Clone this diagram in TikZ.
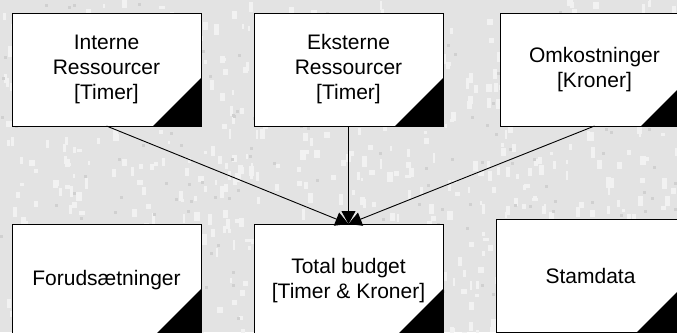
\documentclass[tikz,border=0pt]{standalone}
\usepackage{fontspec}
\setmainfont{Liberation Sans}
\usetikzlibrary{arrows.meta}
\definecolor{bgc}{HTML}{E3E3E3}
\definecolor{spk}{HTML}{F2F2F2}
\definecolor{drk}{HTML}{D0D0D0}
\tikzset{
  fbox/.style={draw=black, line width=1pt, fill=white, minimum width=189pt, minimum height=113pt,
    inner sep=0pt, outer sep=0pt, align=center, font=\fontsize{21}{25}\selectfont},
  conn/.style={draw=black, line width=0.9pt, -{Triangle[length=13pt,width=14pt]}},
}
\begin{document}
\begin{tikzpicture}[x=1pt,y=1pt]
\useasboundingbox (0,0) rectangle (677,-332);
\clip (0,0) rectangle (677,-332);
\fill[bgc] (0,0) rectangle (677,-332);
\pgfmathsetseed{4711}
\foreach \i in {1,...,700}{
  \pgfmathsetmacro\rx{rnd*677}
  \pgfmathsetmacro\ry{-rnd*332}
  \pgfmathsetmacro\rw{2+rnd*4}
  \pgfmathsetmacro\rh{3+rnd*8}
  \fill[spk] (\rx,\ry) rectangle ++(\rw,-\rh);
}
\foreach \i in {1,...,200}{
  \pgfmathsetmacro\rx{rnd*677}
  \pgfmathsetmacro\ry{-rnd*332}
  \fill[drk] (\rx,\ry) rectangle ++(3,-3);
}
\node[fbox] (a) at (106.5,-69.5) {Interne\\Ressourcer\\{}[Timer]};
\node[fbox] (b) at (348.5,-69.5) {Eksterne\\Ressourcer\\{}[Timer]};
\node[fbox] (c) at (594.5,-69.5) {Omkostninger\\{}[Kroner]};
\node[fbox] (d) at (106.5,-280.5) {Forudsætninger};
\node[fbox] (e) at (348.5,-280.5) {Total budget\\{}[Timer \& Kroner]};
\node[fbox] (f) at (590.5,-275.5) {Stamdata};
\foreach \n in {a,b,c,d,e,f}{
  \fill[black] (\n.south east) -- ++(-48,0) -- ++(48,48) -- cycle;
}
\draw[conn] (a.south) -- (e.north);
\draw[conn] (b.south) -- (e.north);
\draw[conn] (c.south) -- (e.north);
\end{tikzpicture}
\end{document}
